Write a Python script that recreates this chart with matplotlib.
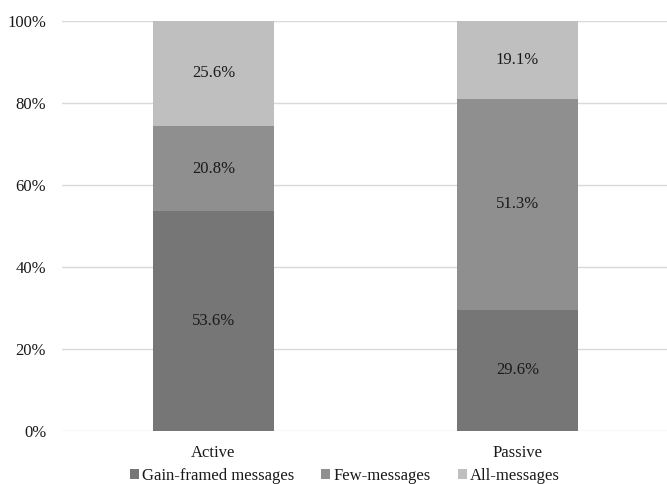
import matplotlib
matplotlib.use("Agg")
import matplotlib.pyplot as plt
import numpy as np

categories = ["Active", "Passive"]
series_names = ["Gain-framed messages", "Few-messages", "All-messages"]
gain_framed = [53.6, 29.6]
few_messages = [20.8, 51.3]
all_messages = [25.6, 19.1]
colors = ["#767676", "#8f8f8f", "#bfbfbf"]

plt.rcParams["font.family"] = ["Liberation Serif", "DejaVu Serif"]

fig = plt.figure(figsize=(6.67, 4.84), dpi=100)
ax = fig.add_axes([61.5 / 667, 0.1095, 608 / 667, 0.8471])

x = np.arange(len(categories))
bottom = np.zeros(len(categories))
for name, vals, c in zip(series_names, [gain_framed, few_messages, all_messages], colors):
    vals = np.array(vals)
    ax.bar(x, vals, width=0.4, bottom=bottom, color=c, label=name, zorder=2)
    for xi, b, v in zip(x, bottom, vals):
        ax.text(xi, b + v / 2, f"{v:.1f}%", ha="center", va="center",
                fontsize=12, color="#1a1a1a", zorder=3)
    bottom += vals

ax.set_xlim(-0.5, 1.5)
ax.set_ylim(0, 100)
ax.set_yticks(np.arange(0, 101, 20))
ax.set_yticklabels([f"{t}%" for t in range(0, 101, 20)])
ax.set_xticks(x)
ax.set_xticklabels(categories)
ax.tick_params(axis="both", length=0, labelsize=12, colors="#1a1a1a")
ax.tick_params(axis="y", pad=11)
ax.tick_params(axis="x", pad=10)
ax.grid(axis="y", color="#d9d9d9", linewidth=1, zorder=0)
for s in ax.spines.values():
    s.set_visible(False)

fig.legend(*ax.get_legend_handles_labels(), loc="center",
           bbox_to_anchor=(345 / 667, 1 - 476 / 484), ncol=3, frameon=False,
           fontsize=12, handlelength=0.55, handleheight=0.55, handletextpad=0.2,
           columnspacing=1.6, borderaxespad=0, borderpad=0, labelcolor="#1a1a1a")

fig.savefig("out.png", dpi=100)
